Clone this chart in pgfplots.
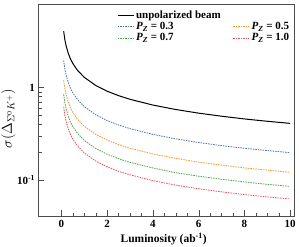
\documentclass[border=0pt]{standalone}
\usepackage{fontspec}
\setmainfont{Liberation Serif}
\usepackage{pgfplots}
\pgfplotsset{compat=1.18}
\definecolor{cblue}{RGB}{76,114,176}
\definecolor{corange}{RGB}{255,145,40}
\definecolor{cgreen}{RGB}{70,165,70}
\definecolor{cred}{RGB}{238,80,90}
\newcommand{\PZ}[1]{\textbf{\textit{P}\textsubscript{\textbf{\textit{Z}}} = #1}}
\begin{document}
\begin{tikzpicture}
\path[use as bounding box] (-38.5pt,-30pt) rectangle (260.5pt,216.3pt);
\begin{axis}[
  scale only axis, width=255.5pt, height=212pt,
  ymode=log, xmin=-1, xmax=10.17, ymin=0.04, ymax=8,
  axis line style={black!70},
  tick pos=left, tick align=inside,
  major tick length=6pt, minor tick length=3.5pt,
  tick style={black!70},
  tick label style={font=\fontsize{11}{13}\selectfont},
  xtick={0,2,4,6,8,10},
  xticklabels={\textbf{0},\textbf{2},\textbf{4},\textbf{6},\textbf{8},\textbf{10}},
  minor x tick num=3,
  ytick={0.1,1},
  yticklabels={\textbf{10\textsuperscript{-1}},\textbf{1}},
  xlabel={\textbf{Luminosity (ab\textsuperscript{-1})}},
  xlabel style={font=\fontsize{11.5}{13}\selectfont, at={(0.49,0)},anchor=north,yshift=-13pt},
  ylabel={$\sigma(\Delta_{\Sigma^{0}K^{+}})$},
  ylabel style={font=\fontsize{14}{16}\selectfont, at={(axis description cs:-0.118,0.46)}, anchor=center},
  legend columns=2,
  legend style={draw=none, fill=none, at={(0.295,0.99)}, anchor=north west,
    font=\fontsize{11}{12}\selectfont, row sep=-1.5pt,
    /tikz/every even column/.append style={column sep=10pt}},
  legend image code/.code={\draw[#1] (0pt,0pt) -- (16pt,0pt);},
  legend cell align=left,
  every axis plot/.append style={line width=0.8pt},
]
\addplot[black, solid, line width=1pt] coordinates {
(0.1,4.080)(0.15,3.331)(0.2,2.885)(0.3,2.355)(0.4,2.040)(0.5,1.824)(0.7,1.542)(1,1.29)(1.5,1.053)(2,0.912)(2.5,0.816)(3,0.745)(4,0.645)(5,0.577)(6,0.527)(7,0.488)(8,0.456)(9,0.430)(10,0.408)};
\addlegendentry{\textbf{unpolarized beam}}
\addlegendimage{empty legend}
\addlegendentry{}
\addplot[cblue, dash pattern=on 1.5pt off 1pt] coordinates {
(0.1,1.961)(0.15,1.601)(0.2,1.386)(0.3,1.132)(0.4,0.980)(0.5,0.877)(0.7,0.741)(1,0.62)(1.5,0.506)(2,0.438)(2.5,0.392)(3,0.358)(4,0.31)(5,0.277)(6,0.253)(7,0.234)(8,0.219)(9,0.207)(10,0.196)};
\addlegendentry{\PZ{0.3}}
\addplot[corange, dash pattern=on 1.5pt off 1pt] coordinates {
(0.1,1.202)(0.15,0.981)(0.2,0.850)(0.3,0.694)(0.4,0.601)(0.5,0.537)(0.7,0.454)(1,0.38)(1.5,0.310)(2,0.269)(2.5,0.240)(3,0.219)(4,0.19)(5,0.170)(6,0.155)(7,0.144)(8,0.134)(9,0.127)(10,0.120)};
\addlegendentry{\PZ{0.5}}
\addplot[cgreen, dash pattern=on 1.5pt off 1pt] coordinates {
(0.1,0.844)(0.15,0.689)(0.2,0.597)(0.3,0.487)(0.4,0.422)(0.5,0.378)(0.7,0.319)(1,0.267)(1.5,0.218)(2,0.189)(2.5,0.169)(3,0.154)(4,0.134)(5,0.119)(6,0.109)(7,0.101)(8,0.0944)(9,0.089)(10,0.0844)};
\addlegendentry{\PZ{0.7}}
\addplot[cred, dash pattern=on 1.5pt off 1pt] coordinates {
(0.1,0.617)(0.15,0.503)(0.2,0.436)(0.3,0.356)(0.4,0.308)(0.5,0.276)(0.7,0.233)(1,0.195)(1.5,0.159)(2,0.138)(2.5,0.123)(3,0.113)(4,0.0975)(5,0.0872)(6,0.0796)(7,0.0737)(8,0.0689)(9,0.065)(10,0.0617)};
\addlegendentry{\PZ{1.0}}
\end{axis}
\end{tikzpicture}
\end{document}
